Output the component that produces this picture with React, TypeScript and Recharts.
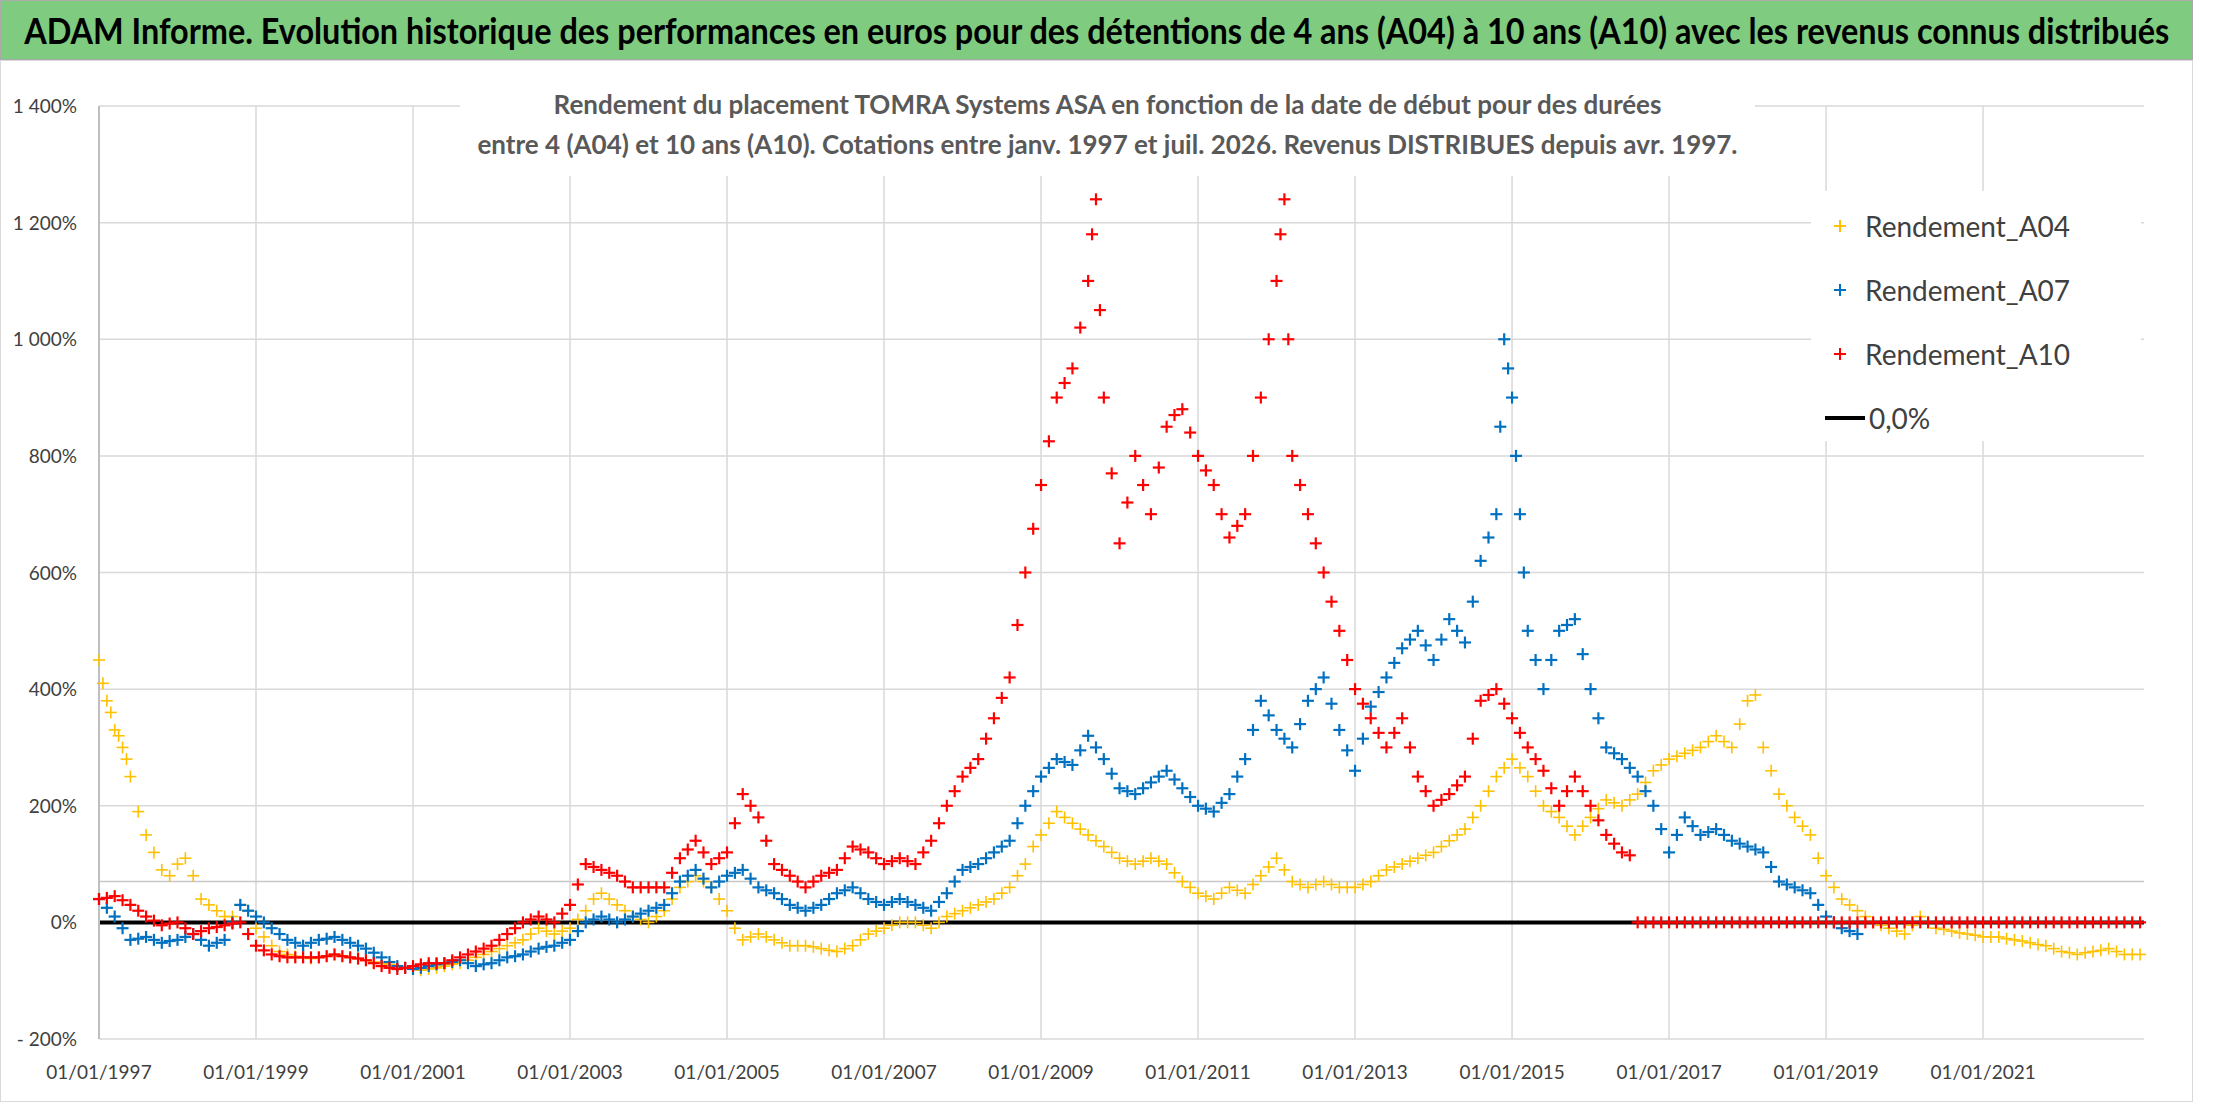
import React from "react";
import { ScatterChart, Scatter, XAxis, YAxis, CartesianGrid, ReferenceLine } from "recharts";

const xTicks = [1997, 1999, 2001, 2003, 2005, 2007, 2009, 2011, 2013, 2015, 2017, 2019, 2021];
const yTicks = [-200, 0, 200, 400, 600, 800, 1000, 1200, 1400];

const A04: [number, number][] = [
  [1997.0,450],[1997.05,410],[1997.1,380],[1997.15,360],[1997.2,330],[1997.25,320],[1997.3,300],[1997.35,280],[1997.4,250],[1997.5,190],[1997.6,150],[1997.7,120],[1997.8,90],[1997.9,80],[1998.0,100],[1998.1,110],[1998.2,80],[1998.3,40],[1998.4,30],[1998.5,20],[1998.6,10],[1998.7,10],[1998.8,30],[1998.9,20],
  [1999.0,-10],[1999.1,-25],[1999.2,-40],[1999.3,-50],[1999.4,-55],[1999.5,-58],[1999.6,-60],[1999.7,-62],[1999.8,-60],[1999.9,-58],[2000.0,-55],[2000.1,-58],[2000.2,-60],[2000.3,-62],[2000.4,-65],[2000.5,-68],[2000.6,-70],[2000.7,-72],[2000.8,-75],[2000.9,-78],[2001.0,-80],[2001.1,-82],[2001.2,-80],[2001.3,-78],[2001.4,-75],[2001.5,-72],[2001.6,-70],[2001.7,-65],[2001.8,-60],[2001.9,-55],[2002.0,-50],[2002.1,-45],[2002.2,-40],[2002.3,-35],[2002.4,-30],[2002.5,-20],[2002.6,-10],[2002.7,-15],[2002.8,-20],[2002.9,-15],
  [2003.0,-10],[2003.1,5],[2003.2,20],[2003.3,40],[2003.4,50],[2003.5,40],[2003.6,30],[2003.7,20],[2003.8,10],[2003.9,5],[2004.0,0],[2004.1,10],[2004.2,20],[2004.3,40],[2004.4,60],[2004.5,70],[2004.6,80],[2004.7,70],[2004.8,60],[2004.9,40],[2005.0,20],[2005.1,-10],[2005.2,-30],[2005.3,-25],[2005.4,-20],[2005.5,-25],[2005.6,-30],[2005.7,-35],[2005.8,-40],[2005.9,-40],[2006.0,-40],[2006.1,-42],[2006.2,-45],[2006.3,-48],[2006.4,-50],[2006.5,-45],[2006.6,-40],[2006.7,-30],[2006.8,-20],[2006.9,-15],
  [2007.0,-10],[2007.1,-5],[2007.2,0],[2007.3,0],[2007.4,0],[2007.5,-5],[2007.6,-10],[2007.7,0],[2007.8,10],[2007.9,15],[2008.0,20],[2008.1,25],[2008.2,30],[2008.3,35],[2008.4,40],[2008.5,50],[2008.6,60],[2008.7,80],[2008.8,100],[2008.9,130],[2009.0,150],[2009.1,170],[2009.2,190],[2009.3,180],[2009.4,170],[2009.5,160],[2009.6,150],[2009.7,140],[2009.8,130],[2009.9,120],[2010.0,110],[2010.1,105],[2010.2,100],[2010.3,105],[2010.4,110],[2010.5,105],[2010.6,100],[2010.7,85],[2010.8,70],[2010.9,60],
  [2011.0,50],[2011.1,45],[2011.2,40],[2011.3,50],[2011.4,60],[2011.5,55],[2011.6,50],[2011.7,65],[2011.8,80],[2011.9,95],[2012.0,110],[2012.1,90],[2012.2,70],[2012.3,65],[2012.4,60],[2012.5,65],[2012.6,70],[2012.7,65],[2012.8,60],[2012.9,60],[2013.0,60],[2013.1,65],[2013.2,70],[2013.3,80],[2013.4,90],[2013.5,95],[2013.6,100],[2013.7,105],[2013.8,110],[2013.9,115],[2014.0,120],[2014.1,130],[2014.2,140],[2014.3,150],[2014.4,160],[2014.5,180],[2014.6,200],[2014.7,225],[2014.8,250],[2014.9,265],
  [2015.0,280],[2015.1,265],[2015.2,250],[2015.3,225],[2015.4,200],[2015.5,190],[2015.6,180],[2015.7,165],[2015.8,150],[2015.9,165],[2016.0,180],[2016.1,195],[2016.2,210],[2016.3,205],[2016.4,200],[2016.5,210],[2016.6,220],[2016.7,240],[2016.8,260],[2016.9,270],[2017.0,280],[2017.1,285],[2017.2,290],[2017.3,295],[2017.4,300],[2017.5,310],[2017.6,320],[2017.7,310],[2017.8,300],[2017.9,340],[2018.0,380],[2018.1,390],[2018.2,300],[2018.3,260],[2018.4,220],[2018.5,200],[2018.6,180],[2018.7,165],[2018.8,150],[2018.9,110],
  [2019.0,80],[2019.1,60],[2019.2,40],[2019.3,30],[2019.4,20],[2019.5,10],[2019.6,0],[2019.7,-5],[2019.8,-10],[2019.9,-15],[2020.0,-20],[2020.1,-5],[2020.2,10],[2020.3,0],[2020.4,-10],[2020.5,-12],[2020.6,-15],[2020.7,-18],[2020.8,-20],[2020.9,-22],[2021.0,-25],[2021.1,-25],[2021.2,-25],[2021.3,-28],[2021.4,-30],[2021.5,-32],[2021.6,-35],[2021.7,-38],[2021.8,-40],[2021.9,-45],[2022.0,-50],[2022.1,-52],[2022.2,-55],[2022.3,-52],[2022.4,-50],[2022.5,-48],[2022.6,-45],[2022.7,-50],[2022.8,-55],[2022.9,-55],[2023.0,-55],
];

const A07: [number, number][] = [
  [1997.0,40],[1997.1,25],[1997.2,10],[1997.3,-10],[1997.4,-30],[1997.5,-28],[1997.6,-25],[1997.7,-30],[1997.8,-35],[1997.9,-32],[1998.0,-30],[1998.1,-25],[1998.2,-20],[1998.3,-30],[1998.4,-40],[1998.5,-35],[1998.6,-30],[1998.7,0],[1998.8,30],[1998.9,20],
  [1999.0,10],[1999.1,0],[1999.2,-10],[1999.3,-20],[1999.4,-30],[1999.5,-35],[1999.6,-40],[1999.7,-35],[1999.8,-30],[1999.9,-28],[2000.0,-25],[2000.1,-30],[2000.2,-35],[2000.3,-40],[2000.4,-45],[2000.5,-52],[2000.6,-60],[2000.7,-68],[2000.8,-75],[2000.9,-78],[2001.0,-80],[2001.1,-78],[2001.2,-75],[2001.3,-72],[2001.4,-70],[2001.5,-68],[2001.6,-65],[2001.7,-70],[2001.8,-75],[2001.9,-72],[2002.0,-70],[2002.1,-65],[2002.2,-60],[2002.3,-58],[2002.4,-55],[2002.5,-50],[2002.6,-45],[2002.7,-42],[2002.8,-40],[2002.9,-35],
  [2003.0,-30],[2003.1,-15],[2003.2,0],[2003.3,5],[2003.4,10],[2003.5,5],[2003.6,0],[2003.7,5],[2003.8,10],[2003.9,15],[2004.0,20],[2004.1,25],[2004.2,30],[2004.3,50],[2004.4,70],[2004.5,80],[2004.6,90],[2004.7,75],[2004.8,60],[2004.9,70],[2005.0,80],[2005.1,85],[2005.2,90],[2005.3,75],[2005.4,60],[2005.5,55],[2005.6,50],[2005.7,40],[2005.8,30],[2005.9,25],[2006.0,20],[2006.1,25],[2006.2,30],[2006.3,40],[2006.4,50],[2006.5,55],[2006.6,60],[2006.7,50],[2006.8,40],[2006.9,35],
  [2007.0,30],[2007.1,35],[2007.2,40],[2007.3,35],[2007.4,30],[2007.5,25],[2007.6,20],[2007.7,35],[2007.8,50],[2007.9,70],[2008.0,90],[2008.1,95],[2008.2,100],[2008.3,110],[2008.4,120],[2008.5,130],[2008.6,140],[2008.7,170],[2008.8,200],[2008.9,225],[2009.0,250],[2009.1,265],[2009.2,280],[2009.3,275],[2009.4,270],[2009.5,295],[2009.6,320],[2009.7,300],[2009.8,280],[2009.9,255],[2010.0,230],[2010.1,225],[2010.2,220],[2010.3,230],[2010.4,240],[2010.5,250],[2010.6,260],[2010.7,245],[2010.8,230],[2010.9,215],
  [2011.0,200],[2011.1,195],[2011.2,190],[2011.3,205],[2011.4,220],[2011.5,250],[2011.6,280],[2011.7,330],[2011.8,380],[2011.9,355],[2012.0,330],[2012.1,315],[2012.2,300],[2012.3,340],[2012.4,380],[2012.5,400],[2012.6,420],[2012.7,375],[2012.8,330],[2012.9,295],[2013.0,260],[2013.1,315],[2013.2,370],[2013.3,395],[2013.4,420],[2013.5,445],[2013.6,470],[2013.7,485],[2013.8,500],[2013.9,475],[2014.0,450],[2014.1,485],[2014.2,520],[2014.3,500],[2014.4,480],[2014.5,550],[2014.6,620],[2014.7,660],[2014.8,700],[2014.85,850],[2014.9,1000],[2014.95,950],
  [2015.0,900],[2015.05,800],[2015.1,700],[2015.15,600],[2015.2,500],[2015.3,450],[2015.4,400],[2015.5,450],[2015.6,500],[2015.7,510],[2015.8,520],[2015.9,460],[2016.0,400],[2016.1,350],[2016.2,300],[2016.3,290],[2016.4,280],[2016.5,265],[2016.6,250],[2016.7,225],[2016.8,200],[2016.9,160],[2017.0,120],[2017.1,150],[2017.2,180],[2017.3,165],[2017.4,150],[2017.5,155],[2017.6,160],[2017.7,150],[2017.8,140],[2017.9,135],[2018.0,130],[2018.1,125],[2018.2,120],[2018.3,95],[2018.4,70],[2018.5,65],[2018.6,60],[2018.7,55],[2018.8,50],[2018.9,30],
  [2019.0,10],[2019.1,0],[2019.2,-10],[2019.3,-15],[2019.4,-20],
];

const A10: [number, number][] = [
  [1997.0,40],[1997.1,42],[1997.2,45],[1997.3,38],[1997.4,30],[1997.5,20],[1997.6,10],[1997.7,3],[1997.8,-5],[1997.9,-2],[1998.0,0],[1998.1,-10],[1998.2,-20],[1998.3,-15],[1998.4,-10],[1998.5,-8],[1998.6,-5],[1998.7,-2],[1998.8,0],[1998.9,-20],
  [1999.0,-40],[1999.1,-48],[1999.2,-55],[1999.3,-58],[1999.4,-60],[1999.5,-60],[1999.6,-60],[1999.7,-60],[1999.8,-60],[1999.9,-58],[2000.0,-55],[2000.1,-58],[2000.2,-60],[2000.3,-62],[2000.4,-65],[2000.5,-70],[2000.6,-75],[2000.7,-78],[2000.8,-80],[2000.9,-78],[2001.0,-75],[2001.1,-72],[2001.2,-70],[2001.3,-70],[2001.4,-70],[2001.5,-65],[2001.6,-60],[2001.7,-55],[2001.8,-50],[2001.9,-45],[2002.0,-40],[2002.1,-30],[2002.2,-20],[2002.3,-10],[2002.4,0],[2002.5,5],[2002.6,10],[2002.7,5],[2002.8,0],[2002.9,15],
  [2003.0,30],[2003.1,65],[2003.2,100],[2003.3,95],[2003.4,90],[2003.5,85],[2003.6,80],[2003.7,70],[2003.8,60],[2003.9,60],[2004.0,60],[2004.1,60],[2004.2,60],[2004.3,85],[2004.4,110],[2004.5,125],[2004.6,140],[2004.7,120],[2004.8,100],[2004.9,110],[2005.0,120],[2005.1,170],[2005.2,220],[2005.3,200],[2005.4,180],[2005.5,140],[2005.6,100],[2005.7,90],[2005.8,80],[2005.9,70],[2006.0,60],[2006.1,70],[2006.2,80],[2006.3,85],[2006.4,90],[2006.5,110],[2006.6,130],[2006.7,125],[2006.8,120],[2006.9,110],
  [2007.0,100],[2007.1,105],[2007.2,110],[2007.3,105],[2007.4,100],[2007.5,120],[2007.6,140],[2007.7,170],[2007.8,200],[2007.9,225],[2008.0,250],[2008.1,265],[2008.2,280],[2008.3,315],[2008.4,350],[2008.5,385],[2008.6,420],[2008.7,510],[2008.8,600],[2008.9,675],[2009.0,750],[2009.1,825],[2009.2,900],[2009.3,925],[2009.4,950],[2009.5,1020],[2009.6,1100],[2009.65,1180],[2009.7,1240],[2009.75,1050],[2009.8,900],[2009.9,770],[2010.0,650],[2010.1,720],[2010.2,800],[2010.3,750],[2010.4,700],[2010.5,780],[2010.6,850],[2010.7,870],[2010.8,880],[2010.9,840],
  [2011.0,800],[2011.1,775],[2011.2,750],[2011.3,700],[2011.4,660],[2011.5,680],[2011.6,700],[2011.7,800],[2011.8,900],[2011.9,1000],[2012.0,1100],[2012.05,1180],[2012.1,1240],[2012.15,1000],[2012.2,800],[2012.3,750],[2012.4,700],[2012.5,650],[2012.6,600],[2012.7,550],[2012.8,500],[2012.9,450],[2013.0,400],[2013.1,375],[2013.2,350],[2013.3,325],[2013.4,300],[2013.5,325],[2013.6,350],[2013.7,300],[2013.8,250],[2013.9,225],[2014.0,200],[2014.1,210],[2014.2,220],[2014.3,235],[2014.4,250],[2014.5,315],[2014.6,380],[2014.7,390],[2014.8,400],[2014.9,375],
  [2015.0,350],[2015.1,325],[2015.2,300],[2015.3,280],[2015.4,260],[2015.5,230],[2015.6,200],[2015.7,225],[2015.8,250],[2015.9,225],[2016.0,200],[2016.1,175],[2016.2,150],[2016.3,135],[2016.4,120],[2016.5,115],
  [2016.6,0],[2016.7,0],[2016.8,0],[2016.9,0],[2017.0,0],[2017.1,0],[2017.2,0],[2017.3,0],[2017.4,0],[2017.5,0],[2017.6,0],[2017.7,0],[2017.8,0],[2017.9,0],[2018.0,0],[2018.1,0],[2018.2,0],[2018.3,0],[2018.4,0],[2018.5,0],[2018.6,0],[2018.7,0],[2018.8,0],[2018.9,0],
  [2019.0,0],[2019.1,0],[2019.2,0],[2019.3,0],[2019.4,0],[2019.5,0],[2019.6,0],[2019.7,0],[2019.8,0],[2019.9,0],[2020.0,0],[2020.1,0],[2020.2,0],[2020.3,0],[2020.4,0],[2020.5,0],[2020.6,0],[2020.7,0],[2020.8,0],[2020.9,0],[2021.0,0],[2021.1,0],[2021.2,0],[2021.3,0],[2021.4,0],[2021.5,0],[2021.6,0],[2021.7,0],[2021.8,0],[2021.9,0],[2022.0,0],[2022.1,0],[2022.2,0],[2022.3,0],[2022.4,0],[2022.5,0],[2022.6,0],[2022.7,0],[2022.8,0],[2022.9,0],[2023.0,0],
];

const toPts = (a: [number, number][]) => a.map(([x, y]) => ({ x, y }));

const plus = (color: string, sw: number, s: number) => (p: any) => {
  const { cx, cy } = p;
  if (cx == null || cy == null) return <g />;
  return (
    <g stroke={color} strokeWidth={sw}>
      <line x1={cx - s} y1={cy} x2={cx + s} y2={cy} />
      <line x1={cx} y1={cy - s} x2={cx} y2={cy + s} />
    </g>
  );
};

const fmtY = (v: number) => {
  const a = Math.abs(v);
  const s = a >= 1000 ? `${Math.floor(a / 1000)} ${String(a % 1000).padStart(3, "0")}` : String(a);
  return (v < 0 ? "- " : "") + s + "%";
};

const font = "Lato, 'Open Sans', sans-serif";

const XTick = (p: any) => (
  <text x={p.x} y={p.y + 32} textAnchor="middle" fontSize={19} fill="#404040" fontFamily={font}>
    {`01/01/${p.payload.value}`}
  </text>
);
const YTick = (p: any) => (
  <text x={p.x - 14} y={p.y + 7} textAnchor="end" fontSize={19} fill="#404040" fontFamily={font}>
    {fmtY(p.payload.value)}
  </text>
);

export default function App() {
  return (
    <div style={{ position: "absolute", left: 0, top: 0, width: 2216, height: 1102, background: "#fff", fontFamily: font }}>
      <div style={{ position: "absolute", left: 0, top: 0, width: 2193, height: 60, background: "#7fcb7f", border: "1px solid #aaa", boxSizing: "border-box", display: "flex", alignItems: "center", justifyContent: "center", fontWeight: "bold", fontSize: 36, color: "#000", whiteSpace: "nowrap", overflow: "hidden" }}>
        <span style={{ display: "inline-block", transform: "scaleX(0.9)" }}>
          ADAM Informe. Evolution historique des performances en euros pour des détentions de 4 ans (A04) à 10 ans (A10) avec les revenus connus distribués
        </span>
      </div>
      <div style={{ position: "absolute", left: 0, top: 60, width: 2193, height: 1042, border: "1px solid #d9d9d9", boxSizing: "border-box" }} />
      <div style={{ position: "absolute", left: 0, top: 0 }}>
        <ScatterChart width={2216} height={1102} margin={{ left: 0, right: 72, top: 106, bottom: 0 }}>
          <CartesianGrid stroke="#d9d9d9" strokeWidth={1.5} verticalValues={xTicks} horizontalValues={yTicks} />
          <XAxis type="number" dataKey="x" domain={[1997, 2023.05]} ticks={xTicks} tick={<XTick />} axisLine={false} tickLine={false} height={63} interval={0} />
          <YAxis type="number" dataKey="y" domain={[-200, 1400]} ticks={yTicks} tick={<YTick />} axisLine={{ stroke: "#bfbfbf", strokeWidth: 2 }} tickLine={false} width={99} interval={0} />
          <ReferenceLine y={70} stroke="#c8c8c8" strokeWidth={1.5} />
          <ReferenceLine y={0} stroke="#000" strokeWidth={4} />
          <Scatter data={toPts(A04)} isAnimationActive={false} shape={plus("#FFC000", 1.6, 6)} />
          <Scatter data={toPts(A07)} isAnimationActive={false} shape={plus("#0070C0", 2.2, 6)} />
          <Scatter data={toPts(A10)} isAnimationActive={false} shape={plus("#FF0000", 2.2, 6)} />
        </ScatterChart>
      </div>
      <div style={{ position: "absolute", left: 460, top: 84, width: 1295, height: 92, background: "#fff", textAlign: "center", fontWeight: "bold", fontSize: 26, color: "#595959", lineHeight: "40px", whiteSpace: "nowrap" }}>
        Rendement du placement TOMRA Systems ASA en fonction de la date de début pour des durées<br />
        entre 4 (A04) et 10 ans (A10). Cotations entre janv. 1997 et juil. 2026. Revenus DISTRIBUES depuis avr. 1997.
      </div>
      <div style={{ position: "absolute", left: 1811, top: 191, width: 330, height: 250, background: "#fff", fontSize: 28, color: "#404040" }}>
        {[["#FFC000", "Rendement_A04"], ["#0070C0", "Rendement_A07"], ["#FF0000", "Rendement_A10"]].map(([c, t], i) => (
          <div key={t} style={{ position: "absolute", left: 14, top: 18 + i * 64, display: "flex", alignItems: "center" }}>
            <svg width={30} height={20}><g stroke={c} strokeWidth={2}><line x1={9} y1={10} x2={21} y2={10} /><line x1={15} y1={4} x2={15} y2={16} /></g></svg>
            <span style={{ marginLeft: 10 }}>{t}</span>
          </div>
        ))}
        <div style={{ position: "absolute", left: 14, top: 210, display: "flex", alignItems: "center" }}>
          <svg width={40} height={20}><line x1={0} y1={10} x2={40} y2={10} stroke="#000" strokeWidth={4} /></svg>
          <span style={{ marginLeft: 4 }}>0,0%</span>
        </div>
      </div>
    </div>
  );
}
